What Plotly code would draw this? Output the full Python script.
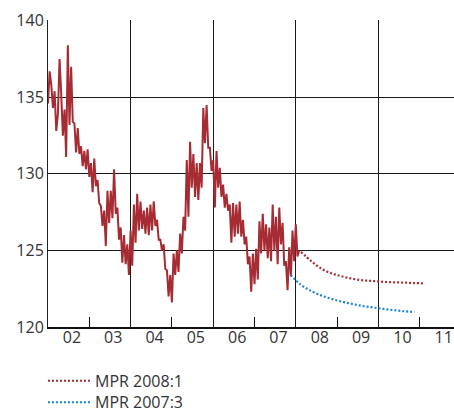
import numpy as np
import plotly.graph_objects as go

# ---- data ----
start_year = 2002.0
step_years = 0.04  # sampling interval of the TCW series (in years)

tcw = [134.6, 136.7, 135.8, 134.3, 135.4, 132.8, 133.9, 137.5, 135.2, 132.5,
       134.2, 131.1, 138.4, 133.2, 137.0, 133.4, 133.3, 131.4, 133.0, 131.3,
       131.8, 130.5, 131.5, 130.3, 131.6, 129.8, 130.7, 128.8, 131.0, 129.2,
       129.6, 128.1, 127.9, 126.6, 127.6, 125.3, 128.9, 126.8, 128.9, 127.1,
       130.3, 127.4, 127.8, 125.7, 126.5, 124.2, 126.0, 124.1, 125.4, 123.4,
       126.3, 124.0, 128.0, 125.5, 128.7, 126.3, 128.2, 126.4, 127.6, 126.1,
       127.8, 126.0, 128.0, 126.3, 128.2, 126.6, 127.0, 125.7, 125.7, 125.0,
       125.4, 123.8, 123.7, 122.0, 123.4, 121.6, 124.8, 123.4, 125.0, 123.6,
       126.1, 124.8, 127.2, 126.3, 130.9, 127.2, 132.1, 129.1, 131.3, 128.5,
       130.7, 128.3, 130.7, 129.1, 134.3, 132.0, 134.5, 131.7, 131.7, 130.2,
       130.9, 127.8, 131.5, 129.1, 130.4, 128.5, 129.3, 127.8, 128.7, 127.6,
       128.0, 125.5, 128.1, 125.9, 128.0, 126.1, 128.2, 125.9, 127.0, 125.4,
       125.9, 124.1, 124.6, 122.3, 124.8, 122.8, 125.1, 123.1, 126.9, 124.8,
       127.4, 125.0, 126.7, 124.5, 126.5, 124.3, 128.0, 125.0, 127.2, 124.1,
       127.8, 125.4, 126.8, 124.0, 124.3, 122.4, 125.2, 123.3, 126.3, 124.3,
       126.7, 124.6, 125.0]

quarters_2008_1 = ["2008Q1", "2008Q2", "2008Q3", "2008Q4", "2009Q1", "2009Q2", "2009Q3",
                   "2009Q4", "2010Q1", "2010Q2", "2010Q3", "2010Q4", "2011Q1"]
mpr_2008_1 = [124.9, 124.3, 123.8, 123.5, 123.3, 123.15, 123.05, 123.0, 122.95,
              122.92, 122.9, 122.87, 122.85]

quarters_2007_3 = ["2007Q4", "2008Q1", "2008Q2", "2008Q3", "2008Q4", "2009Q1", "2009Q2",
                   "2009Q3", "2009Q4", "2010Q1", "2010Q2", "2010Q3", "2010Q4"]
mpr_2007_3 = [123.4, 122.75, 122.35, 122.05, 121.83, 121.65, 121.5, 121.37, 121.27,
              121.18, 121.1, 121.03, 120.98]

years = list(range(2002, 2012))
year_labels = ["02", "03", "04", "05", "06", "07", "08", "09", "10", "11"]
grid_years = [2004, 2006, 2008, 2010]
tick_years = [2003, 2005, 2007, 2009, 2011]
y_ticks = [120, 125, 130, 135, 140]

# ---- helpers ----
def q_mid(q):
    y, n = q.split("Q")
    return int(y) + (int(n) - 0.5) / 4.0

t = start_year + step_years * np.arange(len(tcw))

RED = "#a72b33"
BLUE = "#1a86cf"
TXT = "#333333"
GRID = "#1a1a1a"
FONT = "Open Sans"
X_RANGE = [2002.0, 2011.83]

fig = go.Figure()
fig.add_trace(go.Scatter(x=t, y=tcw, mode="lines", line=dict(color=RED, width=2.0),
                         showlegend=False, hoverinfo="skip"))
fig.add_trace(go.Scatter(x=[q_mid(q) for q in quarters_2008_1], y=mpr_2008_1,
                         mode="lines", name="MPR 2008:1", xaxis="x2", legend="legend",
                         line=dict(color=RED, width=2.2, dash="2px,2px", shape="spline")))
fig.add_trace(go.Scatter(x=[q_mid(q) for q in quarters_2007_3], y=mpr_2007_3,
                         mode="lines", name="MPR 2007:3", xaxis="x2", legend="legend2",
                         line=dict(color=BLUE, width=2.2, dash="2px,2px", shape="spline")))

legend_style = dict(orientation="v", x=-0.0123, xanchor="left", yanchor="top",
                    font=dict(size=16, color=TXT), itemwidth=42,
                    bgcolor="rgba(0,0,0,0)")

fig.update_layout(
    width=454, height=412,
    margin=dict(l=48, r=0, t=20, b=85, autoexpand=False),
    paper_bgcolor="white", plot_bgcolor="white",
    font=dict(family=FONT, size=16, color=TXT),
    xaxis=dict(range=X_RANGE, tickmode="array", automargin=False,
               tickvals=[y + 0.58 for y in years], ticktext=year_labels,
               ticks="", showgrid=False, zeroline=False, ticklabelstandoff=-5,
               ticklabeloverflow="allow",
               showline=True, linecolor="#111111", linewidth=2,
               tickfont=dict(size=16, color=TXT)),
    xaxis2=dict(range=X_RANGE, overlaying="x", anchor="y", side="bottom",
                tickmode="array", automargin=False,
                tickvals=grid_years, showticklabels=False, ticks="",
                showgrid=True, gridcolor=GRID, gridwidth=1, zeroline=False,
                minor=dict(tickmode="array", tickvals=tick_years, ticks="inside",
                           ticklen=10, tickwidth=1, tickcolor="#111111", showgrid=False)),
    yaxis=dict(range=[120, 140.05], tickmode="array", tickvals=y_ticks, automargin=False,
               showgrid=True, gridcolor=GRID, gridwidth=1, zeroline=False,
               showline=True, linecolor="#222222", linewidth=1,
               ticks="", tickfont=dict(size=16, color=TXT)),
    legend=dict(legend_style, y=-0.120),
    legend2=dict(legend_style, y=-0.190),
)

fig.write_html("out.html", config={"displayModeBar": False},
               post_script="document.body.style.margin='0';")
